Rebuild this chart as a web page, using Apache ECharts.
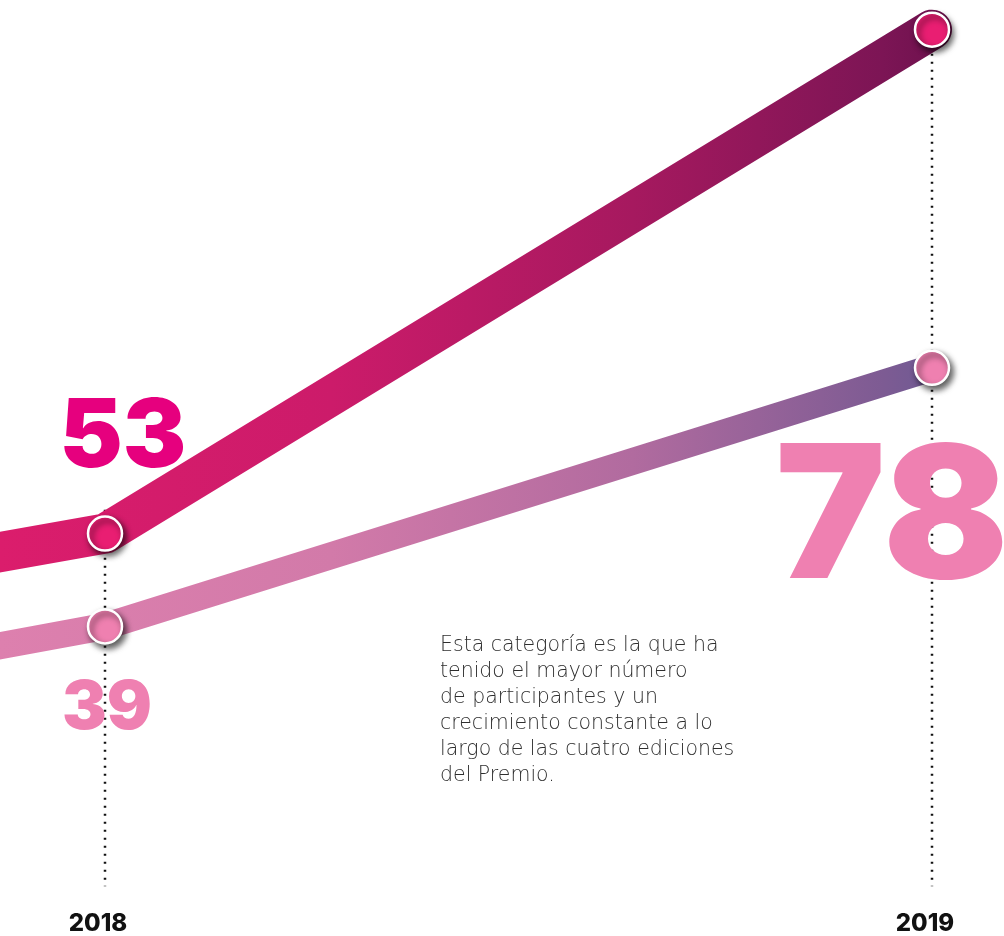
<!DOCTYPE html>
<html>
<head>
<meta charset="utf-8">
<script src="https://cdn.jsdelivr.net/npm/echarts@6/dist/echarts.min.js"></script>
<style>
html,body{margin:0;padding:0;background:#fff;}
#chart{width:1004px;height:936px;}
</style>
</head>
<body>
<div id="chart"></div>
<script>
// ---- data ----
var years = [2017, 2018, 2019];
var shownYears = [2018, 2019];
var seriesTop = [31, 53, 129];     // upper (dark magenta) line
var seriesBottom = [16, 39, 78];   // lower (light pink) line
var noteText = 'Esta categoría es la que ha\ntenido el mayor número\nde participantes y un\ncrecimiento constante a lo\nlargo de las cuatro ediciones\ndel Premio.';

// ---- helpers ----
function pairs(vals) { return years.map(function (y, i) { return [y, vals[i]]; }); }
var bigFont = 'Inter';
// visible window starts a little before the first shown year (2017 lies off-canvas)
var xMin = shownYears[0] - 105 / 827;

var topData = pairs(seriesTop).map(function (p) {
  var item = { value: p };
  if (p[0] === 2018) {
    item.label = { show: true, position: 'inside', offset: [18, -95], fontSize: 95,
      fontFamily: bigFont, fontWeight: 900, color: '#e6007e', formatter: String(p[1]) };
  }
  return item;
});

var bottomData = pairs(seriesBottom).map(function (p) {
  var item = { value: p };
  if (p[0] === 2018) {
    item.label = { show: true, position: 'inside', offset: [2, 82], fontSize: 67,
      fontFamily: bigFont, fontWeight: 900, color: '#ef80b1', formatter: String(p[1]) };
  }
  if (p[0] === 2019) {
    item.label = { show: true, position: 'inside', offset: [-40, 155], fontSize: 185,
      fontFamily: bigFont, fontWeight: 900, color: '#ef80b1', formatter: String(p[1]) };
  }
  return item;
});

var dropSeries = shownYears.map(function (y) {
  var i = years.indexOf(y);
  var v = Math.max(seriesTop[i], seriesBottom[i]);
  return {
    type: 'line', z: 1, silent: true, symbol: 'none',
    data: [[y, v + 3.6], [y, -0.8]],
    lineStyle: { color: '#111', width: 2.5, type: [2, 6] },
    emphasis: { disabled: true }
  };
});

var chart = echarts.init(document.getElementById('chart'), null, { renderer: 'canvas' });
chart.setOption({
  animation: false,
  backgroundColor: '#ffffff',
  grid: { left: 0, right: 72, top: 23, bottom: 50 },
  xAxis: {
    type: 'value', min: xMin, max: 2019,
    axisLine: { show: false }, axisTick: { show: false }, splitLine: { show: false },
    axisLabel: {
      customValues: shownYears,
      margin: 27, fontSize: 24, fontWeight: 800, fontFamily: 'Inter', color: '#111',
      padding: [0, 14, 0, 0],
      formatter: function (v) { return String(Math.round(v)); }
    }
  },
  yAxis: { type: 'value', min: 0, max: 130, show: false },
  graphic: [{
    type: 'text', left: 440, top: 633,
    style: { text: noteText, font: '200 20.5px "DejaVu Sans ExtraLight", "DejaVu Sans"', fill: '#2e2e2e', lineHeight: 26 }
  }],
  series: dropSeries.concat([
    {
      type: 'line', data: bottomData, z: 3, silent: true,
      symbol: 'circle', symbolSize: 34, showAllSymbol: true,
      lineStyle: {
        width: 27, cap: 'round', join: 'round',
        color: { type: 'linear', x: 0, y: 0, x2: 1004, y2: 0, global: true, colorStops: [
          { offset: 0, color: '#dd80ae' }, { offset: 0.33, color: '#d27aa9' },
          { offset: 0.63, color: '#b16b9f' }, { offset: 0.88, color: '#7d5b93' },
          { offset: 0.93, color: '#6f5a93' }, { offset: 1, color: '#6f5a93' }] }
      },
      itemStyle: { color: '#ef80b0', borderColor: '#fff', borderWidth: 2.5,
        shadowBlur: 6, shadowColor: 'rgba(0,0,0,0.65)', shadowOffsetX: 3, shadowOffsetY: 4 },
      emphasis: { disabled: true }
    },
    {
      type: 'line', data: topData, z: 4, silent: true,
      symbol: 'circle', symbolSize: 34, showAllSymbol: true,
      lineStyle: {
        width: 40, cap: 'round', join: 'round',
        color: { type: 'linear', x: 0, y: 0, x2: 1004, y2: 0, global: true, colorStops: [
          { offset: 0, color: '#db1d6c' }, { offset: 0.33, color: '#cc1b6a' },
          { offset: 0.63, color: '#a6195f' }, { offset: 0.88, color: '#7c1555' },
          { offset: 0.93, color: '#70124f' }, { offset: 1, color: '#70124f' }] }
      },
      itemStyle: { color: '#e91e72', borderColor: '#fff', borderWidth: 2.5,
        shadowBlur: 6, shadowColor: 'rgba(0,0,0,0.65)', shadowOffsetX: 3, shadowOffsetY: 4 },
      emphasis: { disabled: true }
    }
  ])
});
</script>
</body>
</html>
